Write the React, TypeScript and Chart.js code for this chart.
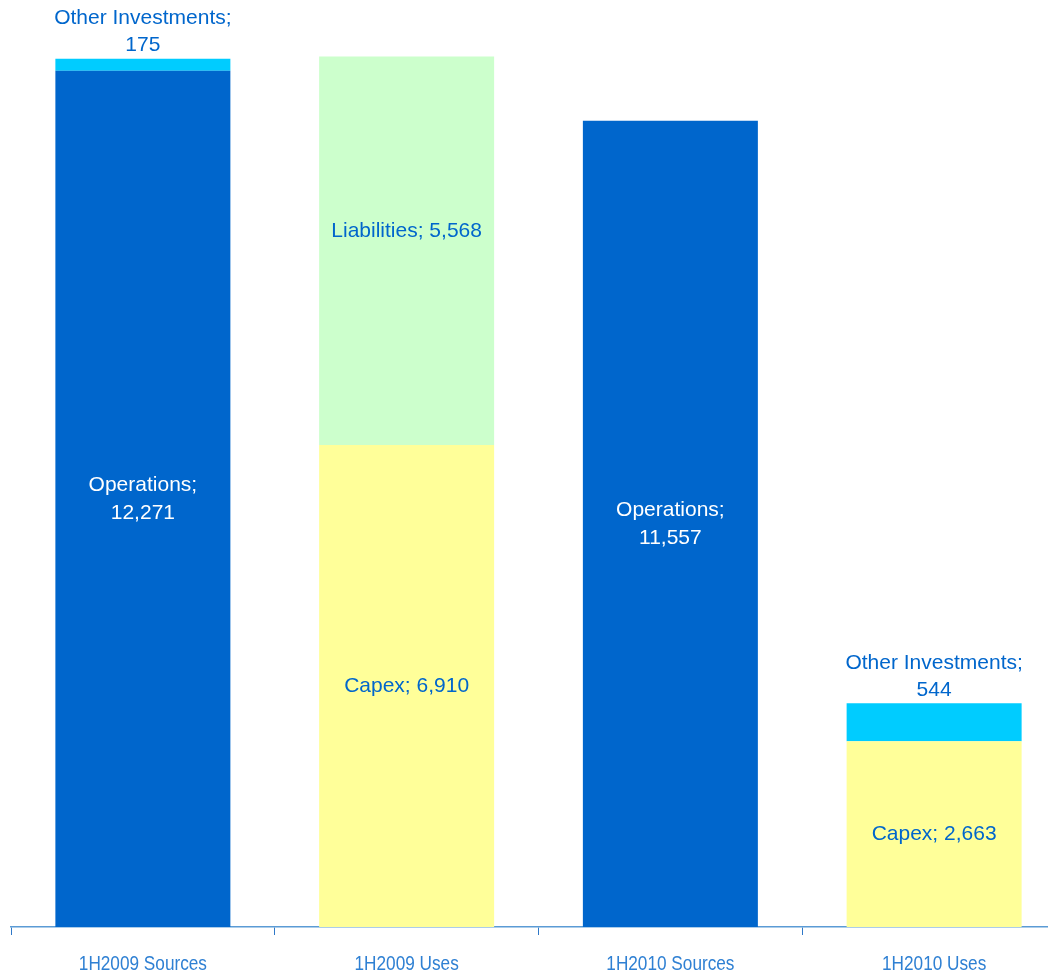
import React, { useEffect, useRef } from "react";
import { Chart, registerables, CategoryScale } from "chart.js";

Chart.register(...registerables);

const categories = ["1H2009 Sources", "1H2009 Uses", "1H2010 Sources", "1H2010 Uses"];
const seriesNames = ["Operations", "Capex", "Other Investments", "Liabilities"];
const operations = [12271, null, 11557, null];
const capex = [null, 6910, null, 2663];
const otherInvestments = [175, null, null, 544];
const liabilities = [null, 5568, null, null];
const yMax = 13000;

const colors = ["#0066CC", "#FFFF99", "#00CCFF", "#CCFFCC"];
const labelColors = ["#FFFFFF", "#0066CC", "#0066CC", "#0066CC"];
const labelWrap = [true, false, true, false];
const labelNudge = [0, 0, 0, -19];

const LABEL_FONT = '21px "Liberation Sans", Arial, sans-serif';
const AXIS_FONT_FAMILY = '"Liberation Sans", Arial, sans-serif';
const NARROW = 0.86;

class NarrowCategoryScale extends (CategoryScale as any) {
  static id = "narrowCategory";
  static defaults = (CategoryScale as any).defaults;
  drawLabels(chartArea: any) {
    const self: any = this;
    const ctx = self.ctx;
    const items = self.getLabelItems(chartArea);
    for (const item of items) {
      const opts = item.options || {};
      const tr = opts.translation || [0, 0];
      ctx.save();
      ctx.translate(tr[0], tr[1]);
      if (opts.rotation) ctx.rotate(opts.rotation);
      ctx.scale(NARROW, 1);
      ctx.font = item.font.string;
      ctx.fillStyle = opts.color;
      ctx.textAlign = opts.textAlign || "center";
      ctx.textBaseline = opts.textBaseline || "middle";
      const off = item.textOffset || 0;
      const label = Array.isArray(item.label) ? item.label : [item.label];
      label.forEach((t: string, i: number) => {
        ctx.fillText(t, 0, off + i * item.font.lineHeight);
      });
      ctx.restore();
    }
  }
}
Chart.register(NarrowCategoryScale as any);

const dataLabelPlugin = {
  id: "dataLabels",
  afterDatasetsDraw(chart: any) {
    const ctx = chart.ctx;
    ctx.save();
    ctx.font = LABEL_FONT;
    ctx.textAlign = "center";
    ctx.textBaseline = "middle";
    chart.data.datasets.forEach((ds: any, di: number) => {
      const meta = chart.getDatasetMeta(di);
      meta.data.forEach((el: any, i: number) => {
        const v = ds.data[i];
        if (v === null || v === undefined) return;
        const props = el.getProps(["x", "y", "base"], true);
        const h = props.base - props.y;
        const valueText = Number(v).toLocaleString("en-US");
        const name = ds.label + ";";
        const lines = labelWrap[di] ? [name, valueText] : [name + " " + valueText];
        const lh = 28;
        let centerY: number;
        let color = labelColors[di];
        if (h < 60) {
          const bottomLine = props.y - 13;
          centerY = bottomLine - ((lines.length - 1) * 27) / 2;
          color = "#0066CC";
          lines.forEach((t, li) => {
            ctx.fillStyle = color;
            ctx.fillText(t, props.x, centerY + (li - (lines.length - 1) / 2) * 27);
          });
          return;
        }
        centerY = (props.y + props.base) / 2 + labelNudge[di];
        ctx.fillStyle = color;
        lines.forEach((t, li) => {
          const yy = centerY + (li - (lines.length - 1) / 2) * lh;
          ctx.fillText(t, props.x, yy);
        });
      });
    });
    ctx.restore();
  },
};

export default function App() {
  const canvasRef = useRef<HTMLCanvasElement | null>(null);

  useEffect(() => {
    const canvas = canvasRef.current;
    if (!canvas) return;
    const seriesData = [operations, capex, otherInvestments, liabilities];
    const chart = new Chart(canvas, {
      type: "bar",
      data: {
        labels: categories,
        datasets: seriesNames.map((name, i) => ({
          label: name,
          data: seriesData[i] as any,
          backgroundColor: colors[i],
          borderWidth: 0,
          categoryPercentage: 1,
          barPercentage: 0.6635,
        })),
      },
      options: {
        responsive: false,
        animation: false,
        devicePixelRatio: 1,
        layout: { padding: { top: 20, left: 11, right: 4, bottom: 0 } },
        plugins: {
          legend: { display: false },
          tooltip: { enabled: false },
        },
        scales: {
          x: {
            type: "narrowCategory" as any,
            stacked: true,
            grid: {
              display: true,
              drawOnChartArea: false,
              drawTicks: true,
              tickLength: 8,
              color: "#2F78C8",
              lineWidth: 1,
              offset: true,
            },
            border: { display: true, color: "#5B9BD5", width: 1.5 },
            ticks: {
              color: "#2F80D3",
              font: { family: AXIS_FONT_FAMILY, size: 20 },
              padding: 17,
              maxRotation: 0,
              autoSkip: false,
            },
            afterFit(scale: any) {
              scale.height = 48;
            },
          } as any,
          y: {
            stacked: true,
            display: false,
            min: 0,
            max: yMax,
          },
        },
      },
      plugins: [dataLabelPlugin],
    });
    return () => chart.destroy();
  }, []);

  return (
    <div
      style={{
        position: "fixed",
        top: 0,
        left: 0,
        width: 1048,
        height: 975,
        overflow: "hidden",
        background: "#FFFFFF",
      }}
    >
      <canvas ref={canvasRef} width={1070} height={975} style={{ display: "block" }} />
    </div>
  );
}
